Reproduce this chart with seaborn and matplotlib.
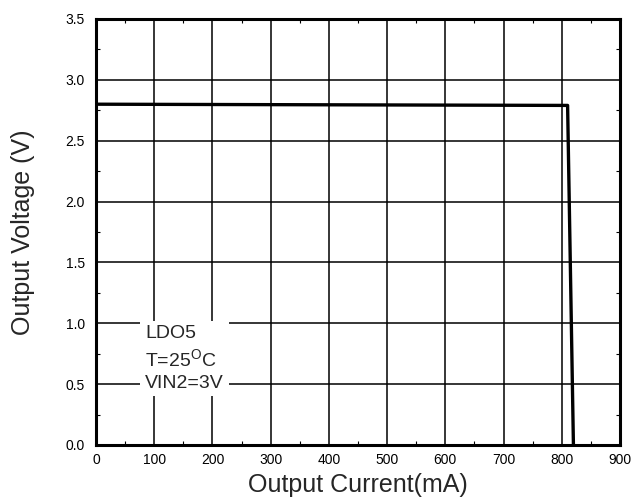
import matplotlib
matplotlib.use("Agg")
import matplotlib.pyplot as plt
from matplotlib.ticker import MultipleLocator
import numpy as np
import pandas as pd
import seaborn as sns

# Load regulation curve: output current (mA) vs output voltage (V)
current_ma = [0, 810, 820]
voltage_v = [2.80, 2.79, 0.0]

x_ticks = [0, 100, 200, 300, 400, 500, 600, 700, 800, 900]
y_ticks = [0.0, 0.5, 1.0, 1.5, 2.0, 2.5, 3.0, 3.5]
note_lines = ["LDO5", "T=25$^{\\mathrm{O}}$C", "VIN2=3V"]

sns.set_style("white")
plt.rcParams["font.family"] = ["Liberation Sans", "DejaVu Sans"]
plt.rcParams["mathtext.fontset"] = "custom"
plt.rcParams["mathtext.rm"] = "Liberation Sans"

df = pd.DataFrame({"current": current_ma, "voltage": voltage_v})

fig = plt.figure(figsize=(6.35, 5.03), dpi=100)
ax = fig.add_axes([96 / 635, 1 - 445 / 503, 524 / 635, 426 / 503])

ax.grid(True, color="black", linewidth=1.1, zorder=0)
ax.set_axisbelow(True)

sns.lineplot(data=df, x="current", y="voltage", sort=False, estimator=None,
             color="black", linewidth=2.4, ax=ax, zorder=3)

ax.set_xlim(x_ticks[0], x_ticks[-1])
ax.set_ylim(y_ticks[0], y_ticks[-1])
ax.set_xticks(x_ticks)
ax.set_yticks(y_ticks)
ax.set_xticklabels([str(t) for t in x_ticks])
ax.set_yticklabels([f"{t:.1f}" for t in y_ticks])
ax.xaxis.set_minor_locator(MultipleLocator(50))
ax.yaxis.set_minor_locator(MultipleLocator(0.25))
ax.tick_params(which="major", length=0, labelsize=10, colors="black")
ax.tick_params(axis="x", which="major", pad=6)
ax.tick_params(axis="y", which="major", pad=8)
ax.tick_params(which="minor", direction="in", length=3, width=0.8,
               top=True, right=True, bottom=True, left=True, color="black")

for side in ax.spines.values():
    side.set_visible(True)
    side.set_color("black")
    side.set_linewidth(2.2)

ax.set_xlabel("Output Current(mA)", fontsize=18, labelpad=4)
ax.set_ylabel("Output Voltage (V)", fontsize=18, labelpad=22)

ax.text(84, 0.982, "\n".join(note_lines), fontsize=14, ha="left", va="top",
        linespacing=1.3, zorder=4,
        bbox=dict(facecolor="white", edgecolor="none", pad=3.5))

fig.savefig("out.png", dpi=100)
